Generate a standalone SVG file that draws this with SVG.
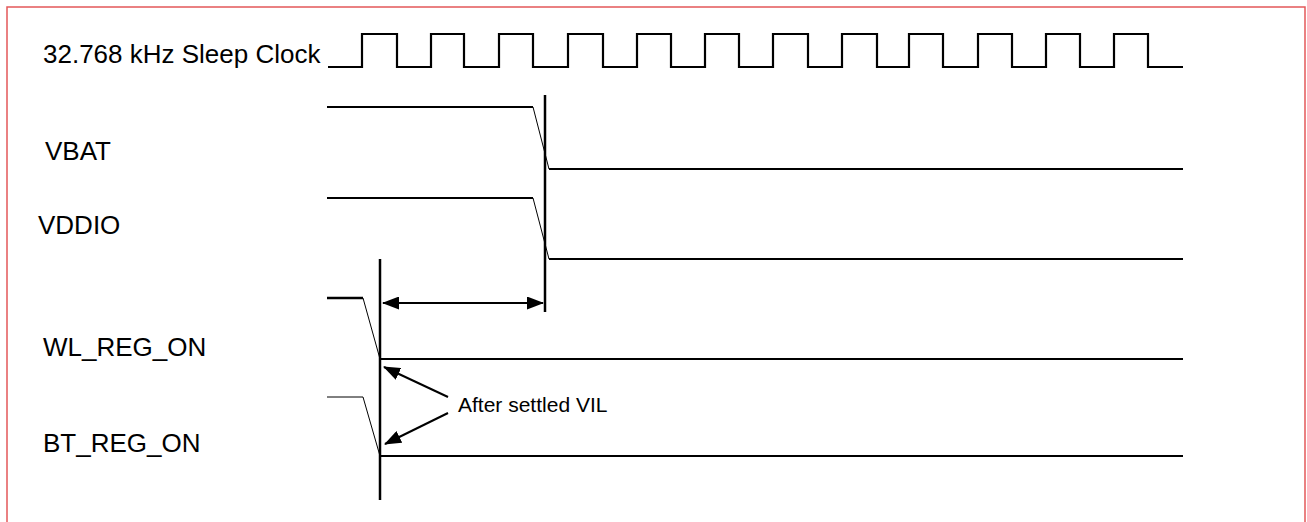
<svg xmlns="http://www.w3.org/2000/svg" width="1307" height="522" viewBox="0 0 1307 522">
<style>
.lbl{font-family:"Liberation Sans",Arial,sans-serif;font-size:26px;fill:#000}
.ann{font-family:"Liberation Sans",Arial,sans-serif;font-size:21px;fill:#000}
.sig{fill:none;stroke:#000;stroke-width:2.2}
.thin{fill:none;stroke:#000;stroke-width:1}
.bar{fill:none;stroke:#000;stroke-width:2.5}
.arr{fill:none;stroke:#000;stroke-width:2}
</style>
<defs>
<marker id="ah" viewBox="0 0 17 13" refX="16" refY="6.5" markerWidth="8.5" markerHeight="6.5" orient="auto-start-reverse" markerUnits="strokeWidth">
<path d="M0,0 L17,6.5 L0,13 Z" fill="#000"/>
</marker>
</defs>
<rect x="0" y="0" width="1307" height="522" fill="#fff"/>
<path d="M7,530 V7 H1305 V530" fill="none" stroke="#e4585a" stroke-width="1.5"/>
<g id="clock">
<text class="lbl" x="43" y="63">32.768 kHz Sleep Clock</text>
<path class="sig" d="M328,67 H362 V34 H397 V67 H431 V34 H464 V67 H499 V34 H533 V67 H568 V34 H603 V67 H637 V34 H671 V67 H705 V34 H739 V67 H773 V34 H808 V67 H842 V34 H877 V67 H909 V34 H943 V67 H978 V34 H1012 V67 H1046 V34 H1080 V67 H1114 V34 H1148 V67 H1183"/>
</g>
<g id="vbat">
<text class="lbl" x="45" y="160">VBAT</text>
<path class="sig" d="M327,107 H533"/>
<path class="thin" d="M533,107 L549,169"/>
<path class="sig" d="M549,169 H1183"/>
</g>
<g id="vddio">
<text class="lbl" x="38" y="234">VDDIO</text>
<path class="sig" d="M327,198 H533"/>
<path class="thin" d="M533,198 L549,259"/>
<path class="sig" d="M549,259 H1183"/>
</g>
<g id="wl_reg_on">
<text class="lbl" x="43" y="356">WL_REG_ON</text>
<path class="bar" d="M327,298 H363"/>
<path class="thin" d="M363,298 L380,359"/>
<path class="sig" d="M380,359 H1183"/>
</g>
<g id="bt_reg_on">
<text class="lbl" x="43" y="452">BT_REG_ON</text>
<path class="thin" d="M327,397 H363 L380,456"/>
<path class="sig" d="M380,456 H1183"/>
</g>
<g id="markers">
<path class="bar" d="M545,95 V312"/>
<path class="bar" d="M380,259 V500"/>
</g>
<g id="annotation">
<text class="ann" x="458" y="412">After settled VIL</text>
</g>
<g id="connectors">
<path class="arr" d="M383,303 H543" marker-start="url(#ah)" marker-end="url(#ah)"/>
<path class="arr" d="M448,397 L384,367" marker-end="url(#ah)"/>
<path class="arr" d="M448,413 L385,444" marker-end="url(#ah)"/>
</g>
</svg>
